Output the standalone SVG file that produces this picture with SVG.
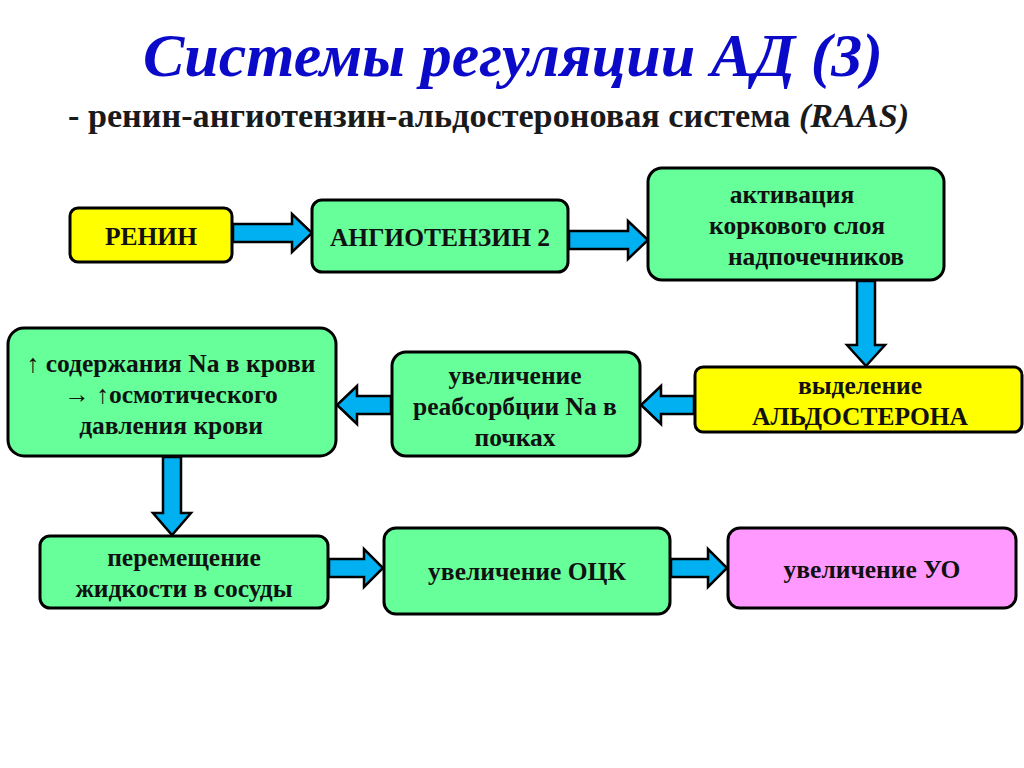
<svg xmlns="http://www.w3.org/2000/svg" width="1024" height="768" viewBox="0 0 1024 768">
<defs>
<style>
.box{stroke:#000;stroke-width:3}
.g{fill:#66ff99}
.y{fill:#ffff00}
.p{fill:#ff99ff}
.t{font-family:"Liberation Serif","Times New Roman",serif;font-weight:bold;font-size:25.5px;fill:#111;text-anchor:middle}
.arr{fill:#00b0f0;stroke:#000;stroke-width:2.5;stroke-linejoin:miter}
</style>
</defs>
<rect width="1024" height="768" fill="#fff"/>
<text x="513" y="76" font-family="Liberation Serif,serif" font-weight="bold" font-style="italic" font-size="62" fill="#0a0ac8" text-anchor="middle">Системы регуляции АД (3)</text>
<text x="68" y="127" font-family="Liberation Serif,serif" font-weight="bold" font-size="34.2" fill="#1a1a1a">- ренин-ангиотензин-альдостероновая система <tspan font-style="italic">(RAAS)</tspan></text>

<g id="connectors">
<path class="arr" d="M233,224 H292 V214 L312,233 L292,252 V242 H233 Z"/>
<path class="arr" d="M569,231 H628 V221 L648,240 L628,259 V249 H569 Z"/>
<path class="arr" d="M857,281 V345 H847 L866,366 L885,345 H875 V281 Z"/>
<path class="arr" d="M694,396 H661 V386 L641,405 L661,424 V414 H694 Z"/>
<path class="arr" d="M391,396 H357 V386 L337,405 L357,424 V414 H391 Z"/>
<path class="arr" d="M163,457 V513 H153 L172,535 L191,513 H181 V457 Z"/>
<path class="arr" d="M329,559 H364 V549 L383,568 L364,587 V577 H329 Z"/>
<path class="arr" d="M671,559 H708 V549 L727,568 L708,587 V577 H671 Z"/>
</g>

<g id="renin"><rect class="box y" x="70" y="208" width="162" height="54" rx="8"/><text class="t" x="151" y="245">РЕНИН</text></g>
<g id="angiotensin"><rect class="box g" x="312" y="200" width="256" height="72" rx="10"/><text class="t" x="440" y="246">АНГИОТЕНЗИН 2</text></g>
<g id="activation"><rect class="box g" x="648" y="168" width="296" height="112" rx="14"/>
<text class="t" x="792" y="203">активация</text><text class="t" x="797" y="234">коркового слоя</text><text class="t" x="816" y="265">надпочечников</text></g>
<g id="aldosterone"><rect class="box y" x="695" y="367" width="327" height="65" rx="8"/>
<text class="t" x="860" y="394">выделение</text><text class="t" x="860" y="425">АЛЬДОСТЕРОНА</text></g>
<g id="reabsorption"><rect class="box g" x="392" y="352" width="248" height="104" rx="14"/>
<text class="t" x="515" y="384">увеличение</text><text class="t" x="515" y="415">реабсорбции Na в</text><text class="t" x="515" y="446">почках</text></g>
<g id="sodium"><rect class="box g" x="8" y="328" width="328" height="128" rx="16"/>
<text class="t" x="171" y="372">↑ содержания Na в крови</text><text class="t" x="171" y="403">→ ↑осмотического</text><text class="t" x="171" y="434">давления крови</text></g>
<g id="fluid"><rect class="box g" x="40" y="536" width="288" height="72" rx="10"/>
<text class="t" x="184" y="566">перемещение</text><text class="t" x="184" y="597">жидкости в сосуды</text></g>
<g id="ock"><rect class="box g" x="384" y="528" width="286" height="86" rx="12"/><text class="t" x="527" y="580">увеличение ОЦК</text></g>
<g id="uo"><rect class="box p" x="728" y="528" width="288" height="80" rx="12"/><text class="t" x="872" y="578">увеличение УО</text></g>
</svg>
